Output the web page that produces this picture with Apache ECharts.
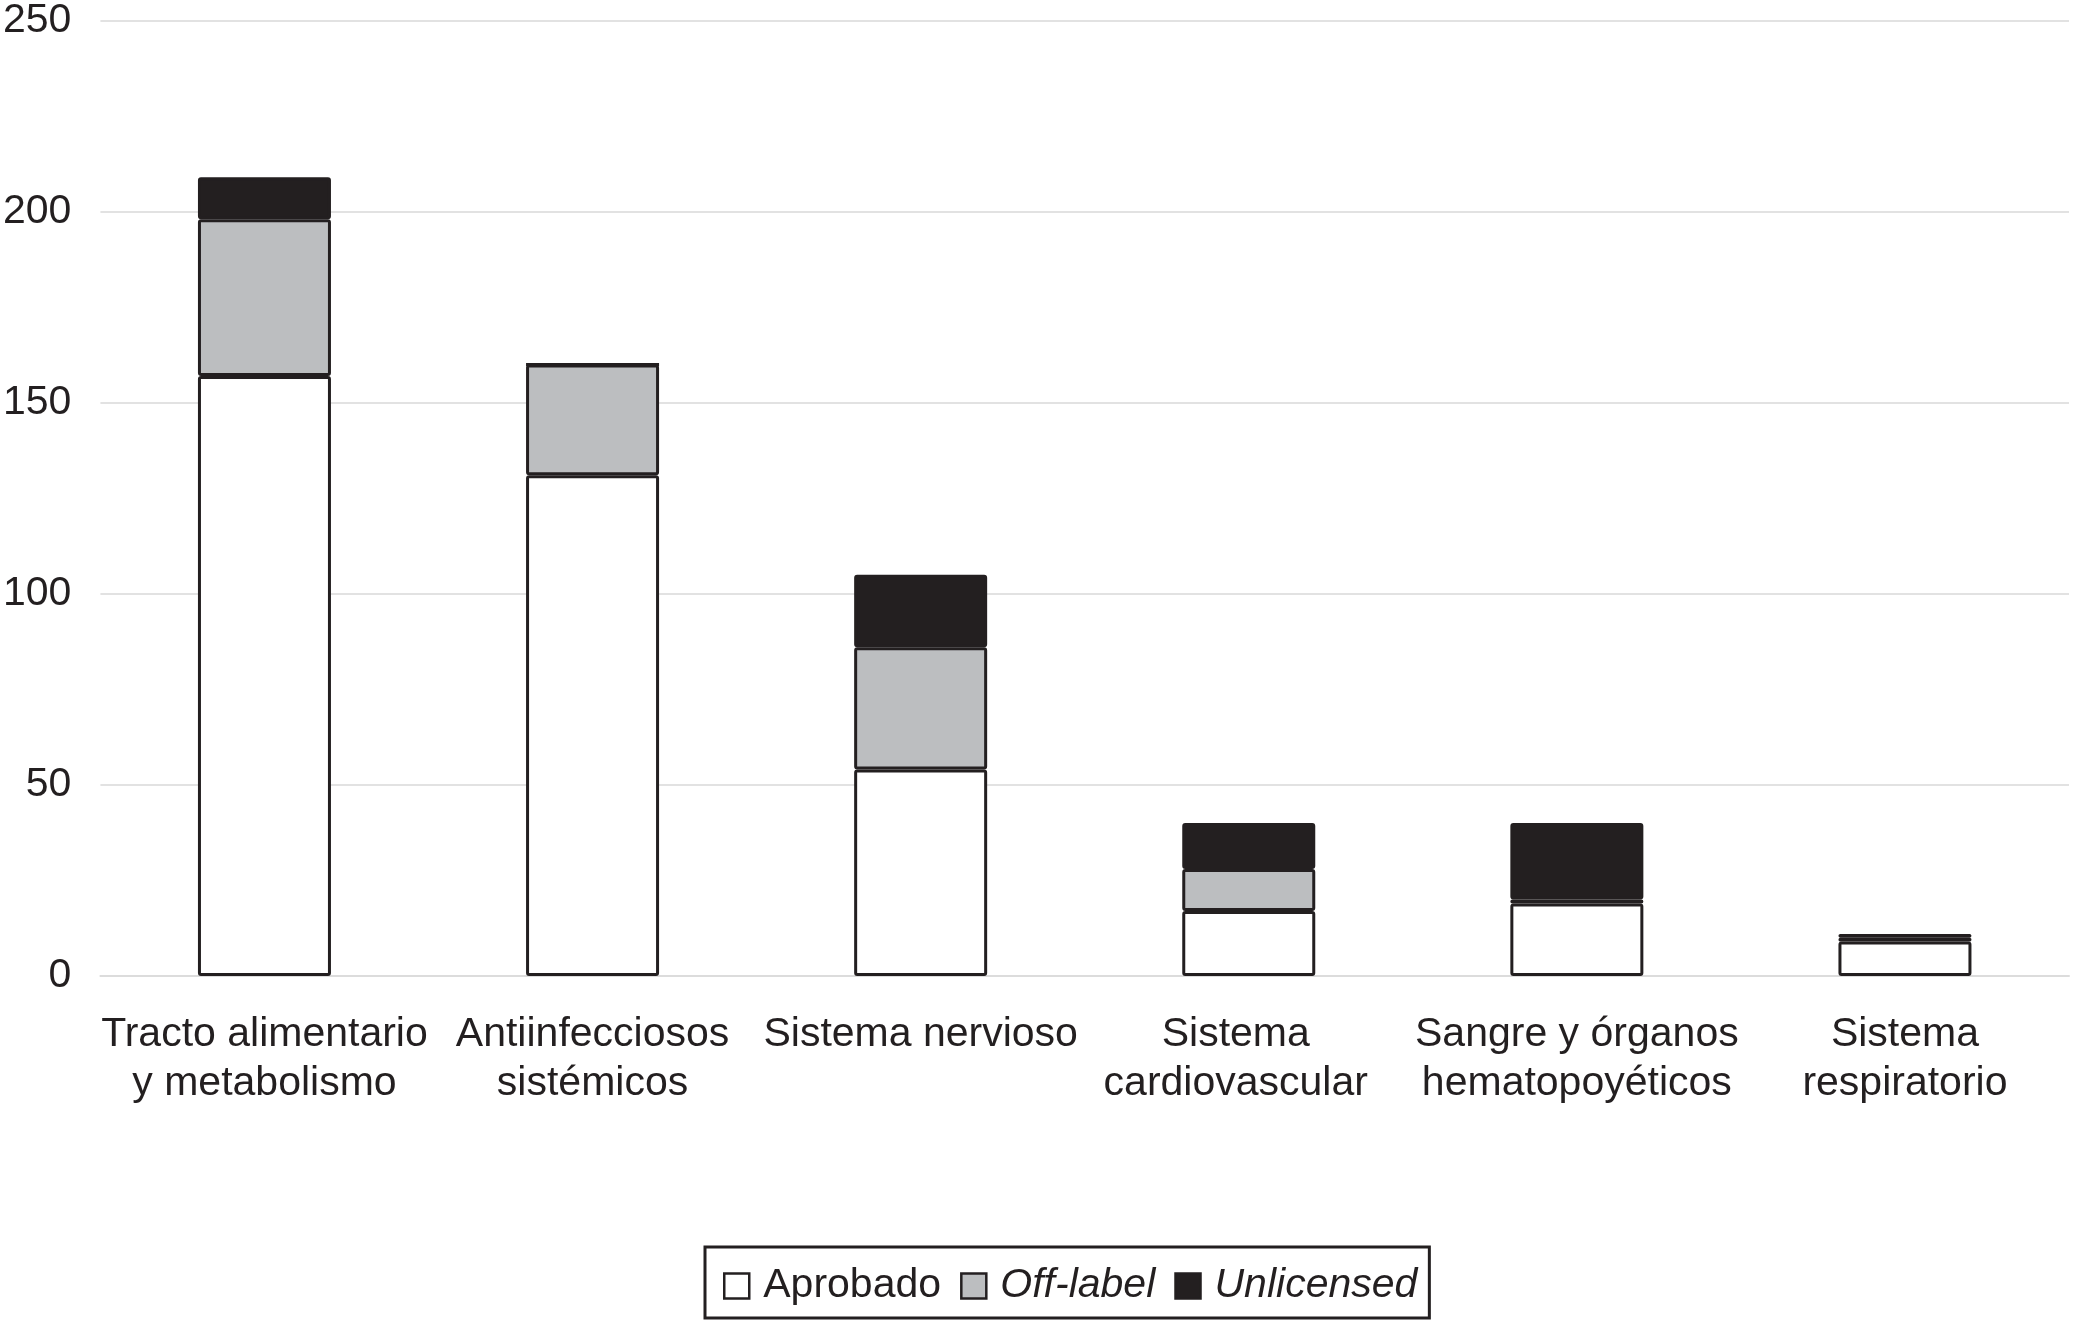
<!DOCTYPE html>
<html>
<head>
<meta charset="utf-8">
<script src="https://cdn.jsdelivr.net/npm/echarts@6/dist/echarts.min.js"></script>
<style>
html,body{margin:0;padding:0;background:#fff;}
#chart{width:2077px;height:1321px;}
</style>
</head>
<body>
<div id="chart"></div>
<script>
const categories = [
  "Tracto alimentario\ny metabolismo",
  "Antiinfecciosos\nsistémicos",
  "Sistema nervioso",
  "Sistema\ncardiovascular",
  "Sangre y órganos\nhematopoyéticos",
  "Sistema\nrespiratorio"
];
const aprobado   = [157, 131, 54, 17, 19, 9];
const offLabel   = [41, 29, 32, 11, 1, 1];
const unlicensed = [11, 0, 19, 12, 20, 1];
const yTicks = { min: 0, max: 250, interval: 50 };

const FONT = "'Liberation Sans', Arial, Helvetica, sans-serif";
const INK = '#231f20';

const chart = echarts.init(document.getElementById('chart'), null, {renderer: 'canvas'});

function seriesOf(name, data, color) {
  return {
    name: name,
    type: 'bar',
    stack: 'total',
    data: data,
    barWidth: 133,
    itemStyle: { color: color, borderColor: INK, borderWidth: 3, borderRadius: 1.5 },
    emphasis: { disabled: true },
    animation: false
  };
}

chart.setOption({
  backgroundColor: '#ffffff',
  animation: false,
  textStyle: { fontFamily: FONT, color: INK },
  grid: { left: 97, right: 8, top: 20, bottom: 345 },
  legend: {
    left: 705,
    bottom: 3,
    padding: [17, 12, 10, 18],
    borderColor: INK,
    borderWidth: 3,
    itemWidth: 25,
    itemHeight: 25,
    itemGap: 19,
    icon: 'rect',
    itemStyle: { borderColor: INK, borderWidth: 2.5 },
    textStyle: { fontFamily: FONT, fontSize: 41, lineHeight: 44, color: INK, padding: [0, 0, 0, 9] },
    data: [
      { name: 'Aprobado' },
      { name: 'Off-label', textStyle: { fontStyle: 'italic' } },
      { name: 'Unlicensed', textStyle: { fontStyle: 'italic' } }
    ]
  },
  xAxis: {
    type: 'category',
    data: categories,
    axisLine: { show: true, lineStyle: { color: '#dcdcdc', width: 2 } },
    axisTick: { show: false },
    axisLabel: {
      interval: 0,
      margin: 34,
      fontFamily: FONT,
      fontSize: 41,
      lineHeight: 49,
      color: INK,
      align: 'center',
      formatter: function (v) {
        return v === "Sistema\ncardiovascular" ? '{s|' + v.replace('\n', '}\n{s|') + '}' : v;
      },
      rich: {
        s: { fontFamily: FONT, fontSize: 41, lineHeight: 49, color: INK, padding: [0, 26, 0, 0] }
      }
    }
  },
  yAxis: {
    type: 'value',
    min: yTicks.min,
    max: yTicks.max,
    interval: yTicks.interval,
    axisLine: { show: false },
    axisTick: { show: false },
    splitLine: { lineStyle: { color: '#e2e2e2', width: 2 } },
    axisLabel: { margin: 29, fontFamily: FONT, fontSize: 41, color: INK }
  },
  series: [
    seriesOf('Aprobado', aprobado, '#ffffff'),
    seriesOf('Off-label', offLabel, '#bcbec0'),
    seriesOf('Unlicensed', unlicensed, INK)
  ]
});
</script>
</body>
</html>
